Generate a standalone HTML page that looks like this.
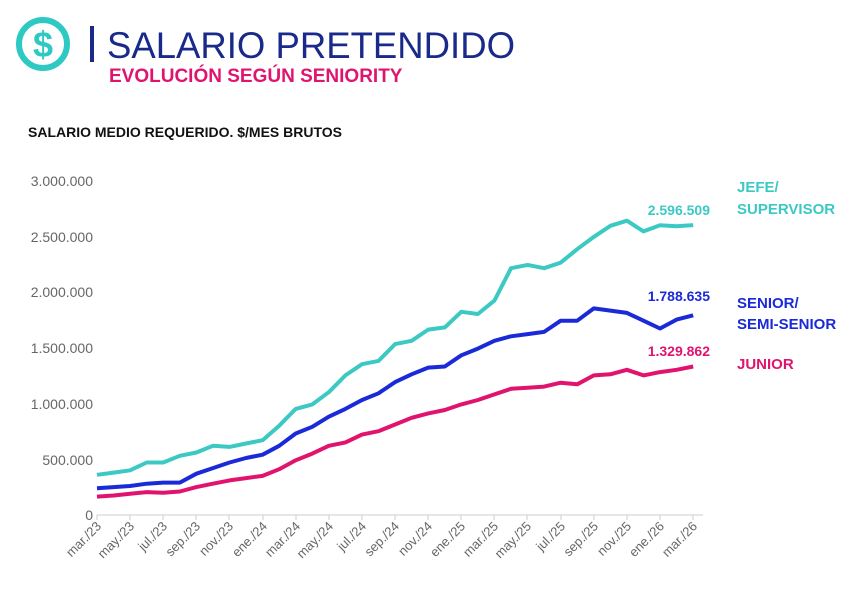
<!DOCTYPE html>
<html><head><meta charset="utf-8"><style>
body{margin:0;width:863px;height:591px;background:#fff;overflow:hidden;font-family:"Liberation Sans",sans-serif;}
</style></head><body>
<svg width="863" height="591" xmlns="http://www.w3.org/2000/svg" font-family="Liberation Sans, sans-serif" style="position:absolute;left:0;top:0">
<circle cx="43" cy="44" r="24" fill="none" stroke="#2ec9c3" stroke-width="6"/>
<text x="43" y="57" text-anchor="middle" font-size="36" font-weight="bold" fill="#2ec9c3">$</text>
<rect x="90" y="26" width="4" height="36" fill="#1a2a8a"/>
<text x="107" y="58" font-size="37" fill="#1a2a8a" textLength="408" lengthAdjust="spacingAndGlyphs">SALARIO PRETENDIDO</text>
<text x="109" y="82" font-size="19" font-weight="bold" fill="#e0146e">EVOLUCIÓN SEGÚN SENIORITY</text>
<text x="28" y="137" font-size="14" font-weight="bold" fill="#111">SALARIO MEDIO REQUERIDO. $/MES BRUTOS</text>
<g font-size="14" fill="#666" text-anchor="end">
<text x="93" y="186">3.000.000</text><text x="93" y="242">2.500.000</text><text x="93" y="297">2.000.000</text>
<text x="93" y="353">1.500.000</text><text x="93" y="409">1.000.000</text><text x="93" y="465">500.000</text><text x="93" y="520">0</text>
</g>
<line x1="97" y1="515" x2="703" y2="515" stroke="#ccc" stroke-width="1"/>
<g stroke="#ccc">
<line x1="97" y1="515" x2="97" y2="520"/><line x1="130" y1="515" x2="130" y2="520"/><line x1="163" y1="515" x2="163" y2="520"/><line x1="196" y1="515" x2="196" y2="520"/><line x1="229" y1="515" x2="229" y2="520"/><line x1="263" y1="515" x2="263" y2="520"/><line x1="296" y1="515" x2="296" y2="520"/><line x1="329" y1="515" x2="329" y2="520"/><line x1="362" y1="515" x2="362" y2="520"/><line x1="395" y1="515" x2="395" y2="520"/><line x1="428" y1="515" x2="428" y2="520"/><line x1="461" y1="515" x2="461" y2="520"/><line x1="494" y1="515" x2="494" y2="520"/><line x1="527" y1="515" x2="527" y2="520"/><line x1="561" y1="515" x2="561" y2="520"/><line x1="594" y1="515" x2="594" y2="520"/><line x1="627" y1="515" x2="627" y2="520"/><line x1="660" y1="515" x2="660" y2="520"/><line x1="693" y1="515" x2="693" y2="520"/>
</g>
<path id="pj" fill="none" stroke="#e0146e" stroke-width="4" stroke-linejoin="round"/>
<path id="pb" fill="none" stroke="#1a2ad8" stroke-width="4" stroke-linejoin="round"/>
<path id="pc" fill="none" stroke="#3cc9c3" stroke-width="4" stroke-linejoin="round"/>
<text x="710" y="215" font-size="14" font-weight="bold" fill="#3cc9c3" text-anchor="end">2.596.509</text>
<text x="710" y="301" font-size="14" font-weight="bold" fill="#1a2ad8" text-anchor="end">1.788.635</text>
<text x="710" y="356" font-size="14" font-weight="bold" fill="#e0146e" text-anchor="end">1.329.862</text>
<g font-size="15" font-weight="bold">
<text x="737" y="192" fill="#3cc9c3">JEFE/</text><text x="737" y="214" fill="#3cc9c3">SUPERVISOR</text>
<text x="737" y="308" fill="#1a2ad8">SENIOR/</text><text x="737" y="329" fill="#1a2ad8">SEMI-SENIOR</text>
<text x="737" y="369" fill="#e0146e">JUNIOR</text>
</g>
<g font-size="13" fill="#666">
<text transform="translate(102,527) rotate(-45)" text-anchor="end">mar./23</text>
<text transform="translate(135,527) rotate(-45)" text-anchor="end">may./23</text>
<text transform="translate(168,527) rotate(-45)" text-anchor="end">jul./23</text>
<text transform="translate(201,527) rotate(-45)" text-anchor="end">sep./23</text>
<text transform="translate(234,527) rotate(-45)" text-anchor="end">nov./23</text>
<text transform="translate(268,527) rotate(-45)" text-anchor="end">ene./24</text>
<text transform="translate(301,527) rotate(-45)" text-anchor="end">mar./24</text>
<text transform="translate(334,527) rotate(-45)" text-anchor="end">may./24</text>
<text transform="translate(367,527) rotate(-45)" text-anchor="end">jul./24</text>
<text transform="translate(400,527) rotate(-45)" text-anchor="end">sep./24</text>
<text transform="translate(433,527) rotate(-45)" text-anchor="end">nov./24</text>
<text transform="translate(466,527) rotate(-45)" text-anchor="end">ene./25</text>
<text transform="translate(499,527) rotate(-45)" text-anchor="end">mar./25</text>
<text transform="translate(532,527) rotate(-45)" text-anchor="end">may./25</text>
<text transform="translate(566,527) rotate(-45)" text-anchor="end">jul./25</text>
<text transform="translate(599,527) rotate(-45)" text-anchor="end">sep./25</text>
<text transform="translate(632,527) rotate(-45)" text-anchor="end">nov./25</text>
<text transform="translate(665,527) rotate(-45)" text-anchor="end">ene./26</text>
<text transform="translate(698,527) rotate(-45)" text-anchor="end">mar./26</text>
</g>
</svg>
<script>
var c=[360,380,400,470,470,530,560,620,610,640,670,800,950,990,1100,1250,1350,1380,1530,1560,1660,1680,1820,1800,1920,2210,2240,2210,2260,2380,2490,2590,2635,2540,2595,2585,2596];
var b=[240,250,260,280,290,290,370,420,470,510,540,620,730,790,880,950,1030,1090,1190,1260,1320,1330,1430,1490,1560,1600,1620,1640,1740,1740,1850,1830,1810,1740,1670,1750,1788];
var j=[165,175,190,205,200,210,250,280,310,330,350,410,490,550,620,650,720,750,810,870,910,940,990,1030,1080,1130,1140,1150,1185,1170,1250,1260,1300,1250,1280,1300,1330];
function X(i){return 97+i*16.56}function Y(v){return 515-v*0.11167}
function p(a){return a.map(function(v,i){return(i?'L':'M')+X(i).toFixed(1)+' '+Y(v).toFixed(1)}).join(' ')}
document.getElementById('pc').setAttribute('d',p(c));
document.getElementById('pb').setAttribute('d',p(b));
document.getElementById('pj').setAttribute('d',p(j));
</script>
</body></html>
